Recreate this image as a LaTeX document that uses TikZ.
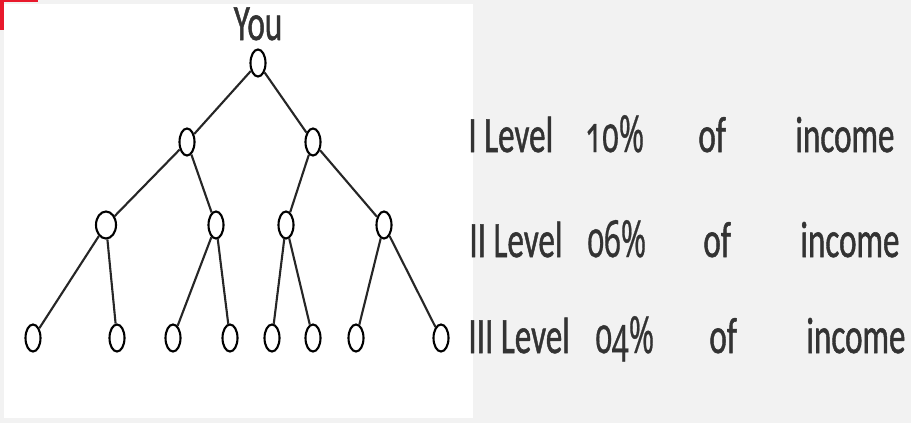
\documentclass[tikz,border=0pt]{standalone}
\usepackage{fontspec}
\setmainfont{Carlito}[BoldFont=Carlito,BoldFeatures={FakeBold=1.2}]
\newfontfamily\oldnums{Noto Sans}[Numbers=OldStyle,BoldFont=Noto Sans,BoldFeatures={FakeBold=0.6,Numbers=OldStyle}]
\usetikzlibrary{shapes.geometric}

\definecolor{panelgray}{HTML}{F2F2F2}
\definecolor{textgray}{HTML}{333333}
\definecolor{markred}{HTML}{E8192C}

\tikzset{
  member/.style={draw,ellipse,line width=1.2pt,inner sep=0pt,minimum width=0.3cm,minimum height=0.54cm},
  lbl/.style={anchor=base west,inner sep=0pt,text=textgray,font=\fontsize{29}{34}\selectfont\bfseries},
  link/.style={line width=1.2pt,black!85}
}
\newcommand{\squeeze}[1]{\scalebox{0.65}[1]{#1}}
\newcommand{\pct}[1]{\scalebox{0.6}[1]{\oldnums\bfseries #1}}

\begin{document}
\begin{tikzpicture}[x=0.02cm,y=-0.02cm]
        \useasboundingbox (0,0) rectangle (911,423);
        \fill[panelgray] (0,0) rectangle (911,423);
        \fill[white] (4,4) rectangle (473,418);
        \fill[markred] (0,0) rectangle (4,30);
        \fill[markred] (0,0) rectangle (38,2);

        % the tree
        \node[lbl,anchor=base] (you) at (258,40) {\squeeze{You}};
        \node[member] (r) at (258,63) {};
        \node[member] (a1) at (187,142) {};
        \node[member] (a2) at (313,142) {};
        \node[member,minimum width=0.4cm] (b1) at (106,225) {};
        \node[member] (b2) at (216,225) {};
        \node[member] (b3) at (286,225) {};
        \node[member] (b4) at (384,225) {};
        \node[member] (c1) at (33,338) {};
        \node[member] (c2) at (117,338) {};
        \node[member] (c3) at (173,338) {};
        \node[member] (c4) at (230,338) {};
        \node[member] (c5) at (272,338) {};
        \node[member] (c6) at (313,338) {};
        \node[member] (c7) at (356,338) {};
        \node[member] (c8) at (441,338) {};

        \draw[link] (r) -- (a1);
        \draw[link] (r) -- (a2);
        \draw[link] (a1) -- (b1);
        \draw[link] (a1) -- (b2);
        \draw[link] (a2) -- (b3);
        \draw[link] (a2) -- (b4);
        \draw[link] (b1) -- (c1);
        \draw[link] (b1) -- (c2);
        \draw[link] (b2) -- (c3);
        \draw[link] (b2) -- (c4);
        \draw[link] (b3) -- (c5);
        \draw[link] (b3) -- (c6);
        \draw[link] (b4) -- (c7);
        \draw[link] (b4) -- (c8);

        % the levels
        \node[lbl] (lev1) at (468,152) {\squeeze{I Level}};
        \node[lbl] (pct1) at (585,152) {\pct{10\%}};
        \node[lbl] (of1) at (698,152) {\squeeze{of}};
        \node[lbl] (inc1) at (795,152) {\squeeze{income}};
        \node[lbl] (lev2) at (469,257) {\squeeze{II Level}};
        \node[lbl] (pct2) at (587,257) {\pct{06\%}};
        \node[lbl] (of2) at (703,257) {\squeeze{of}};
        \node[lbl] (inc2) at (800,257) {\squeeze{income}};
        \node[lbl] (lev3) at (468,353) {\squeeze{III Level}};
        \node[lbl] (pct3) at (595,353) {\pct{04\%}};
        \node[lbl] (of3) at (709,353) {\squeeze{of}};
        \node[lbl] (inc3) at (806,353) {\squeeze{income}};
    \end{tikzpicture}
\end{document}
